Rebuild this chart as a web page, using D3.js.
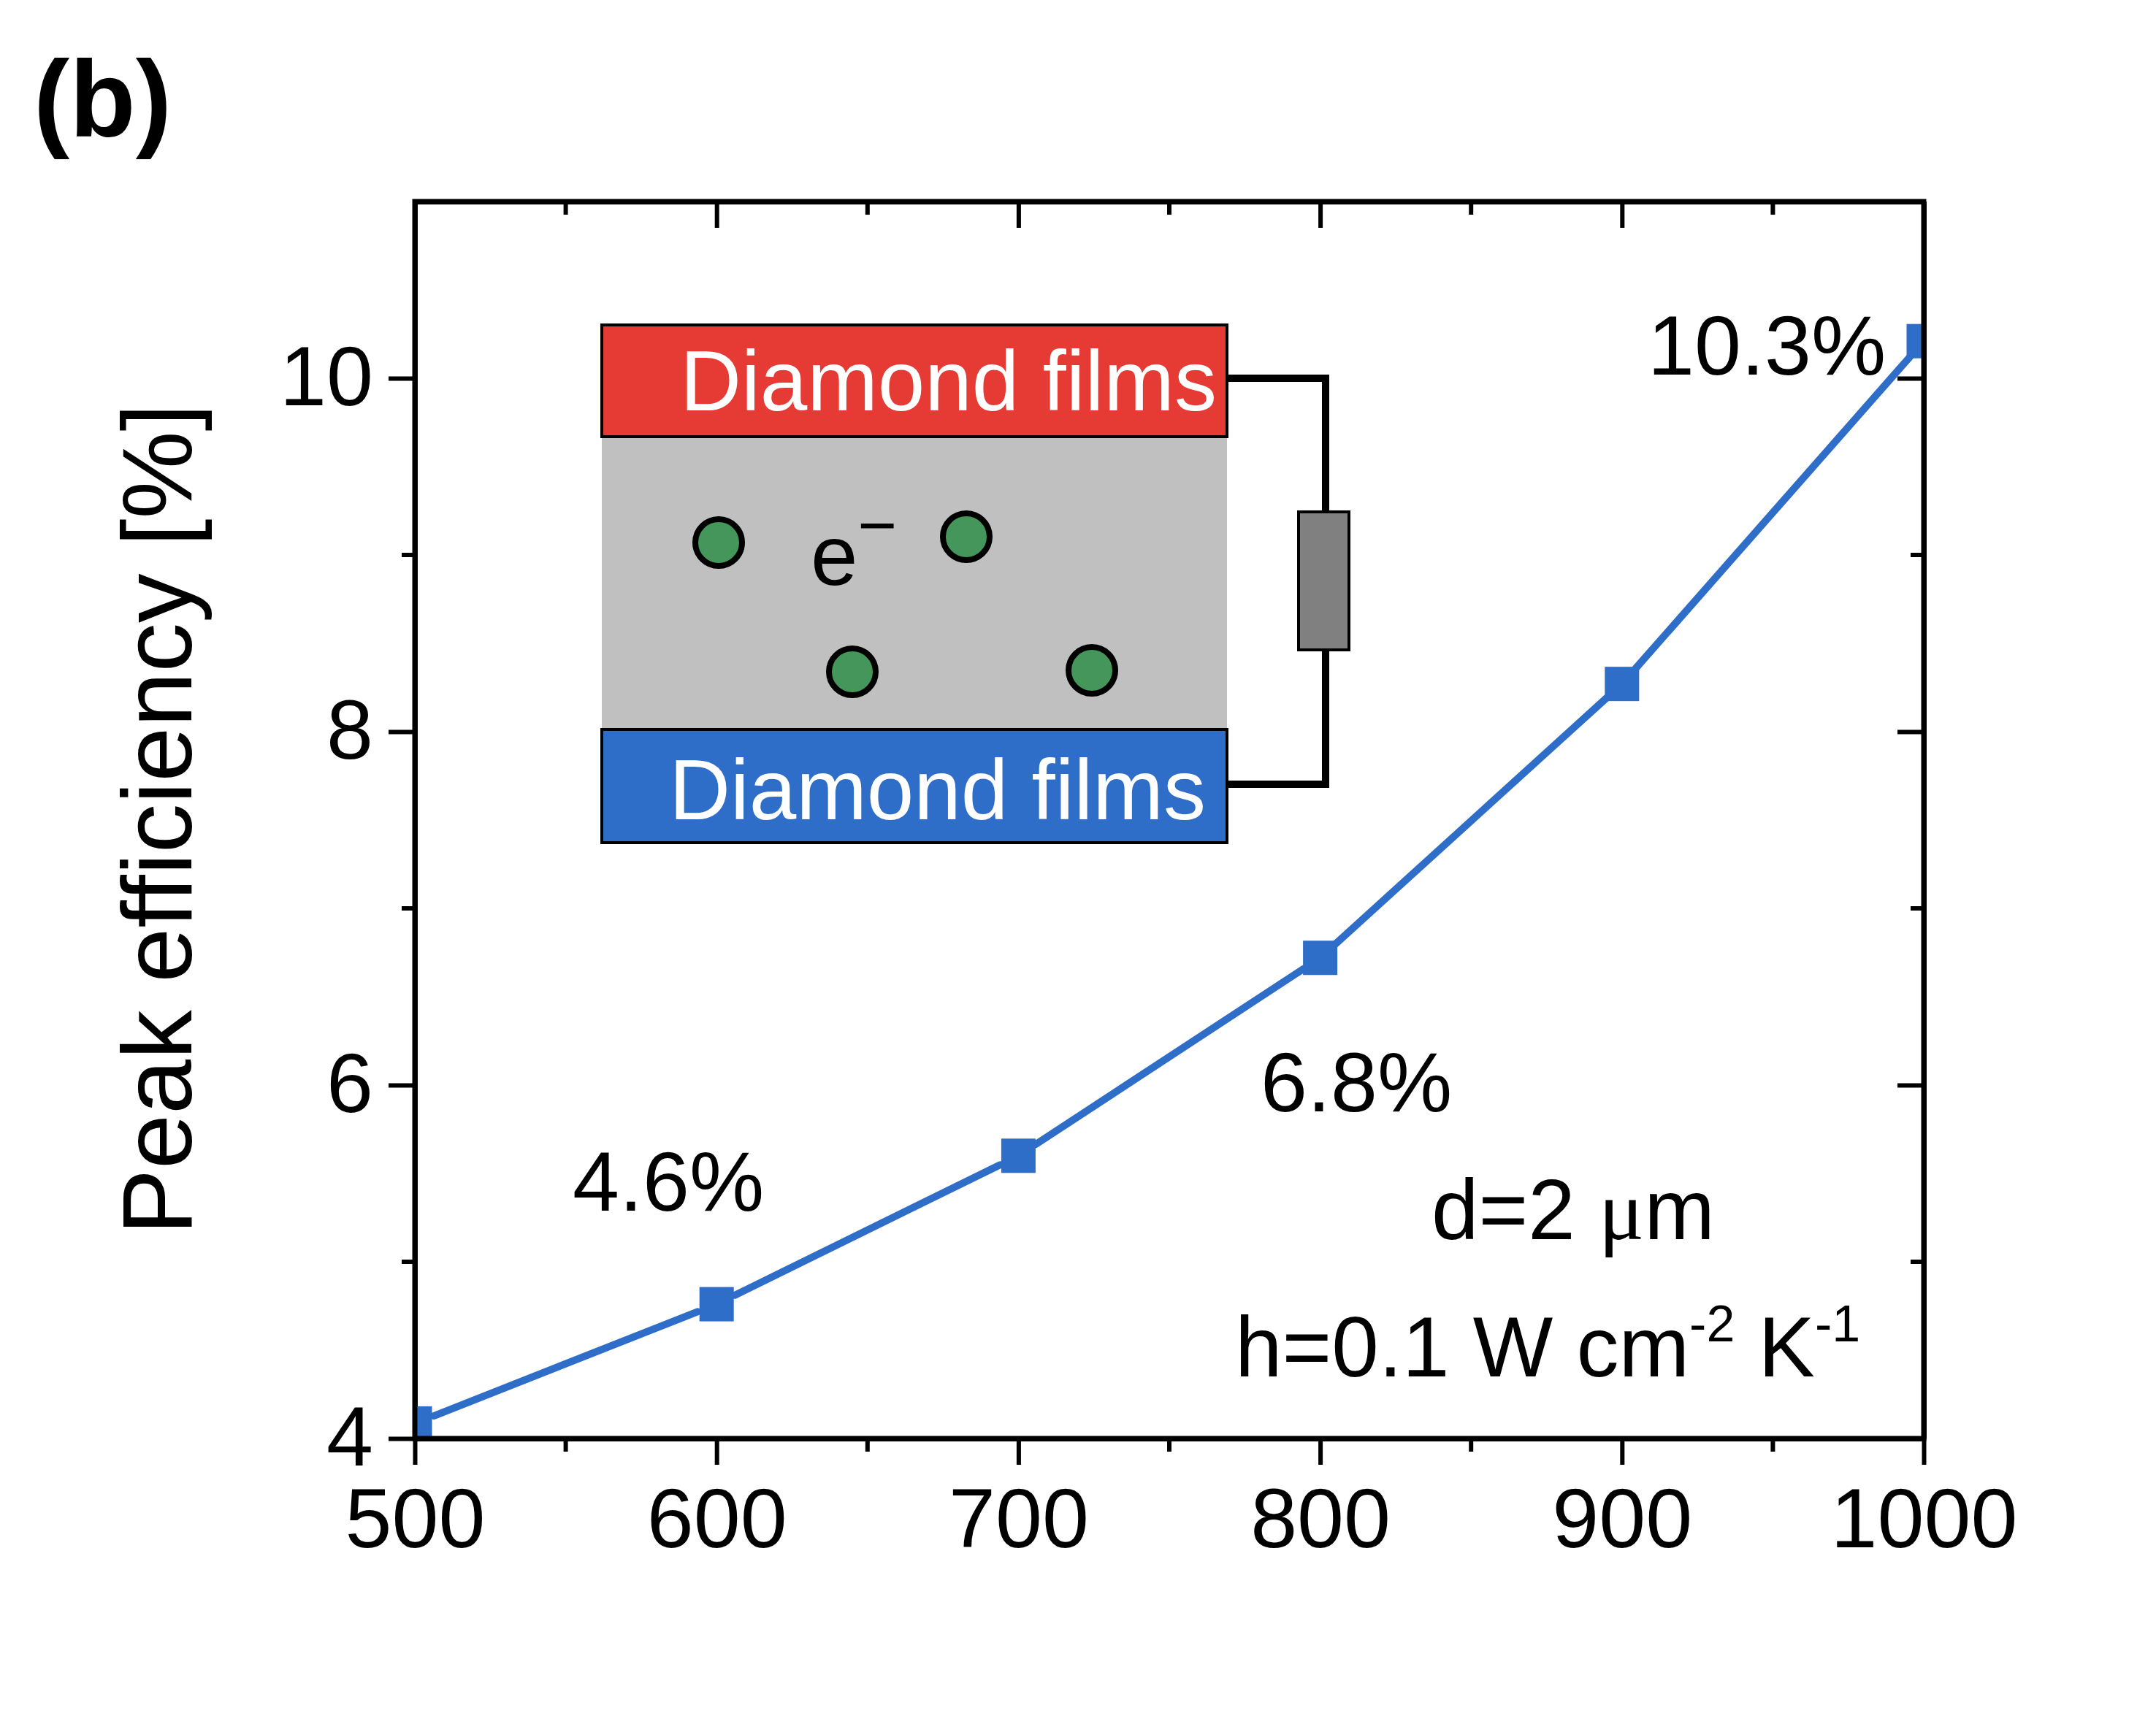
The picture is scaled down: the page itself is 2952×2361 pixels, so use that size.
<!DOCTYPE html>
<html>
<head>
<meta charset="utf-8">
<script src="https://cdn.jsdelivr.net/npm/d3@7"></script>
<style>
  html, body { margin: 0; padding: 0; background: #fff; }
  svg { display: block; }
</style>
</head>
<body>
<svg id="chart"></svg>
<script>
// temperature [K] vs peak efficiency [%]
const temps = [500, 600, 700, 800, 900, 1000]
const efficiency = [4.085, 4.76, 5.60, 6.72, 8.27, 10.21]
const xTicks = [500, 600, 700, 800, 900, 1000]
const yTicks = [4, 6, 8, 10]
const labels = [
    {text: "4.6%", x: 584, y: 5.29},
    {text: "6.8%", x: 812, y: 5.85},
    {text: "10.3%", x: 948, y: 10.02}
]

const W = 2952, H = 2361
const margin = {top: 276, right: W - 2634, bottom: H - 1970, left: 568}
const font = "'Liberation Sans', Arial, sans-serif"
const blue = "#2f6ec8"

const svg = d3.select("#chart")
    .attr("width", W)
    .attr("height", H)
    .attr("viewBox", [0, 0, W, H])
    .attr("font-family", font)

let x = d3.scaleLinear().domain([500, 1000]).range([margin.left, W - margin.right])
let y = d3.scaleLinear().domain([4, 11]).range([H - margin.bottom, margin.top])

svg.append("defs").append("clipPath").attr("id", "plotclip")
    .append("rect")
    .attr("x", x.range()[0]).attr("y", y.range()[1])
    .attr("width", x.range()[1] - x.range()[0])
    .attr("height", y.range()[0] - y.range()[1])

// ---- axes (ticks out on bottom/left, in on top/right like Origin)
const major = 36, minor = 18, axisW = 7, tickW = 6
let xMinor = d3.range(550, 1000, 100)
let yMinor = [5, 7, 9]

let bottomAxis = g => g
    .attr("transform", `translate(0,${y(4)})`)
    .call(d3.axisBottom(x).tickValues(xTicks).tickSize(major).tickSizeOuter(0).tickPadding(31).tickFormat(d3.format("d")))
let leftAxis = g => g
    .attr("transform", `translate(${x(500)},0)`)
    .call(d3.axisLeft(y).tickValues(yTicks).tickSize(major).tickSizeOuter(0).tickPadding(21).tickFormat(d3.format("d")))
let topAxis = g => g
    .attr("transform", `translate(0,${y(11)})`)
    .call(d3.axisBottom(x).tickValues(xTicks).tickSize(major).tickSizeOuter(0).tickFormat(""))
let rightAxis = g => g
    .attr("transform", `translate(${x(1000)},0)`)
    .call(d3.axisLeft(y).tickValues(yTicks).tickSize(major).tickSizeOuter(0).tickFormat(""))

for (let ax of [bottomAxis, leftAxis, topAxis, rightAxis]) {
    svg.append("g")
        .call(ax)
        .call(g => g.select(".domain").attr("stroke-width", axisW))
        .call(g => g.selectAll(".tick line").attr("stroke-width", tickW))
        .call(g => g.selectAll(".tick text").attr("font-size", 115).attr("fill", "#000"))
        .attr("font-family", font)
}

// minor ticks
let minorTick = (vals, fx1, fx2, fy1, fy2) => svg.append("g")
    .selectAll("line").data(vals).join("line")
    .attr("x1", fx1).attr("x2", fx2).attr("y1", fy1).attr("y2", fy2)
    .attr("stroke", "#000").attr("stroke-width", tickW)
minorTick(xMinor, d => x(d), d => x(d), y(4), y(4) + minor)
minorTick(xMinor, d => x(d), d => x(d), y(11), y(11) + minor)
minorTick(yMinor, x(500), x(500) - minor, d => y(d), d => y(d))
minorTick(yMinor, x(1000), x(1000) - minor, d => y(d), d => y(d))

// ---- inset schematic (pixel layout inside plot)
const inset = svg.append("g")
const ix0 = 824, ix1 = 1680
inset.append("rect").attr("x", ix0).attr("y", 598).attr("width", ix1 - ix0).attr("height", 401)
    .attr("fill", "#c0c0c0")
inset.append("rect").attr("x", ix0).attr("y", 445).attr("width", ix1 - ix0).attr("height", 153)
    .attr("fill", "#e63b35").attr("stroke", "#000").attr("stroke-width", 4)
inset.append("rect").attr("x", ix0).attr("y", 999).attr("width", ix1 - ix0).attr("height", 155)
    .attr("fill", blue).attr("stroke", "#000").attr("stroke-width", 4)
inset.append("text").attr("x", 1666).attr("y", 562).attr("text-anchor", "end")
    .attr("font-size", 116).attr("fill", "#fff").text("Diamond films")
inset.append("text").attr("x", 1651).attr("y", 1122).attr("text-anchor", "end")
    .attr("font-size", 116).attr("fill", "#fff").text("Diamond films")
// wires + resistor
inset.append("path")
    .attr("d", `M${ix1},518H1815V1074H${ix1}`)
    .attr("fill", "none").attr("stroke", "#000").attr("stroke-width", 10)
inset.append("rect").attr("x", 1778).attr("y", 701).attr("width", 69).attr("height", 189)
    .attr("fill", "#808080").attr("stroke", "#000").attr("stroke-width", 4)
// electrons
const electrons = [[984, 743], [1323, 735], [1167, 920], [1495, 918]]
inset.selectAll("circle").data(electrons).join("circle")
    .attr("cx", d => d[0]).attr("cy", d => d[1]).attr("r", 32)
    .attr("fill", "#44965a").attr("stroke", "#000").attr("stroke-width", 8)
inset.append("text").attr("x", 1110).attr("y", 801).attr("font-size", 116).attr("fill", "#000")
    .call(t => {
        t.append("tspan").text("e")
        t.append("tspan").attr("font-size", 92).attr("dy", -50).text("\u2212")
    })

// ---- data line with small gaps at the markers
const pts = temps.map((t, i) => [x(t), y(efficiency[i])])
const gap = 28
let segs = d3.pairs(pts).map(([a, b]) => {
    let dx = b[0] - a[0], dy = b[1] - a[1], L = Math.hypot(dx, dy)
    let ux = dx / L, uy = dy / L
    return [[a[0] + ux * gap, a[1] + uy * gap], [b[0] - ux * gap, b[1] - uy * gap]]
})
const plot = svg.append("g").attr("clip-path", "url(#plotclip)")
plot.selectAll("path").data(segs).join("path")
    .attr("d", d3.line())
    .attr("fill", "none").attr("stroke", blue).attr("stroke-width", 10).attr("stroke-linecap", "round")
const ms = 47
plot.selectAll("rect").data(temps).join("rect")
    .attr("x", d => x(d) - ms / 2)
    .attr("y", (d, i) => y(efficiency[i]) - ms / 2)
    .attr("width", ms).attr("height", ms)
    .attr("fill", blue)

// frame over clipped markers
svg.append("rect")
    .attr("x", x(500)).attr("y", y(11))
    .attr("width", x(1000) - x(500)).attr("height", y(4) - y(11))
    .attr("fill", "none").attr("stroke", "#000").attr("stroke-width", axisW)

// ---- annotations
svg.append("g").selectAll("text").data(labels).join("text")
    .attr("x", d => x(d.x)).attr("y", d => y(d.y))
    .attr("text-anchor", "middle")
    .attr("font-size", 115).attr("fill", "#000")
    .text(d => d.text)

svg.append("text").attr("x", 1960).attr("y", 1697).attr("font-size", 116)
    .call(t => {
        t.append("tspan").text("d=2 ")
        t.append("tspan").attr("font-family", "'Liberation Serif', 'Times New Roman', serif").text("\u03bc")
        t.append("tspan").text("m")
    })
svg.append("text").attr("x", 1691).attr("y", 1885).attr("font-size", 116)
    .call(t => {
        t.append("tspan").text("h=0.1 W cm")
        t.append("tspan").attr("font-size", 70).attr("dy", -48).text("-2")
        t.append("tspan").attr("dy", 48).text(" K")
        t.append("tspan").attr("font-size", 70).attr("dy", -48).text("-1")
    })

// axis title + panel label
svg.append("text")
    .attr("transform", `translate(262,1122) rotate(-90)`)
    .attr("text-anchor", "middle")
    .attr("font-size", 135).attr("fill", "#000")
    .text("Peak efficiency [%]")
svg.append("text").attr("x", 46).attr("y", 187)
    .attr("font-size", 148).attr("font-weight", "bold").attr("fill", "#000")
    .text("(b)")
</script>
</body>
</html>
